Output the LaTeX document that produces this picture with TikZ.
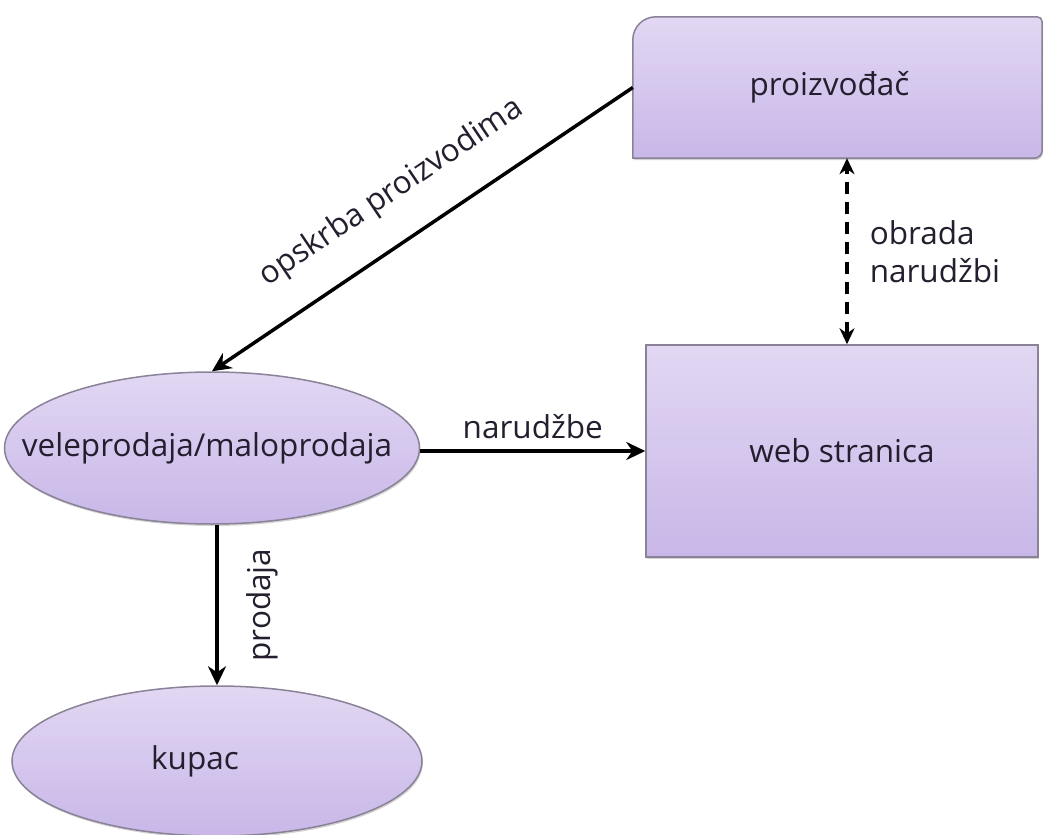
\documentclass[tikz,border=0pt]{standalone}
\usepackage{fontspec}
\setmainfont{Open Sans}
\usetikzlibrary{shapes.geometric,arrows.meta,backgrounds,shadows}
\definecolor{ftop}{RGB}{226,215,243}
\definecolor{fbot}{RGB}{200,183,232}
\definecolor{edgec}{RGB}{138,130,150}
\definecolor{txt}{RGB}{36,30,46}
\begin{document}
\begin{tikzpicture}[x=1pt,y=-1pt,
  every node/.style={font=\fontsize{31.5}{38}\selectfont, text=txt},
  shapebox/.style={top color=ftop, bottom color=fbot, draw=edgec, line width=1.5pt,
    drop shadow={shadow xshift=1pt, shadow yshift=-2pt, opacity=0.35}},
  oval/.style={ellipse, shapebox, inner sep=0pt},
  arr/.style={line width=3.5pt, -{Stealth[length=19pt,width=18pt]}},
  arrback/.style={line width=3.5pt, {Stealth[length=19pt,width=18pt]}-},
  dasharr/.style={line width=3.5pt, dash pattern=on 12pt off 8pt, {Stealth[length=16pt,width=15pt]}-{Stealth[length=16pt,width=15pt]}},
  lab/.style={inner sep=0pt}]
\useasboundingbox (0,0) rectangle (1045,835);
% producer box
\node[minimum width=409pt, minimum height=141pt, inner sep=0pt] (p) at (837.5,87.5) {\makebox[0pt][c]{\hspace{-16pt}proizvođač}};
\begin{scope}[on background layer]
\shade[shapebox] (p.south west) [rounded corners=23pt] -- (p.north west) [rounded corners=5pt] -- (p.north east) [rounded corners=8pt] -- (p.south east) [sharp corners] -- cycle;
\end{scope}
% web box
\node[shapebox, minimum width=392pt, minimum height=212pt, inner sep=0pt] (w) at (842,451) {web stranica};
% ellipses
\node[oval, minimum width=415pt, minimum height=152pt] (vm) at (212,448) {\makebox[0pt][c]{\hspace{-10pt}veleprodaja/maloprodaja}};
\node[oval, minimum width=410pt, minimum height=150pt] (ku) at (217,761) {\makebox[0pt][c]{\hspace{-44pt}kupac}};
% connectors
\draw[arrback] (vm.north) -- node[lab, sloped, above=30pt, pos=0.49] {opskrba proizvodima} (p.west);
\draw[arr] (vm.east |- w.west) -- node[lab, above=10pt] {narudžbe} (w.west);
\draw[arrback] (ku.north) -- node[lab, sloped, below=28pt] {prodaja} (ku.north |- vm.south);
\draw[dasharr] ([xshift=5pt]w.north) -- node[lab, right=21pt, align=left] {obrada\\narudžbi} ([xshift=5pt]w.north |- p.south);
\end{tikzpicture}
\end{document}
